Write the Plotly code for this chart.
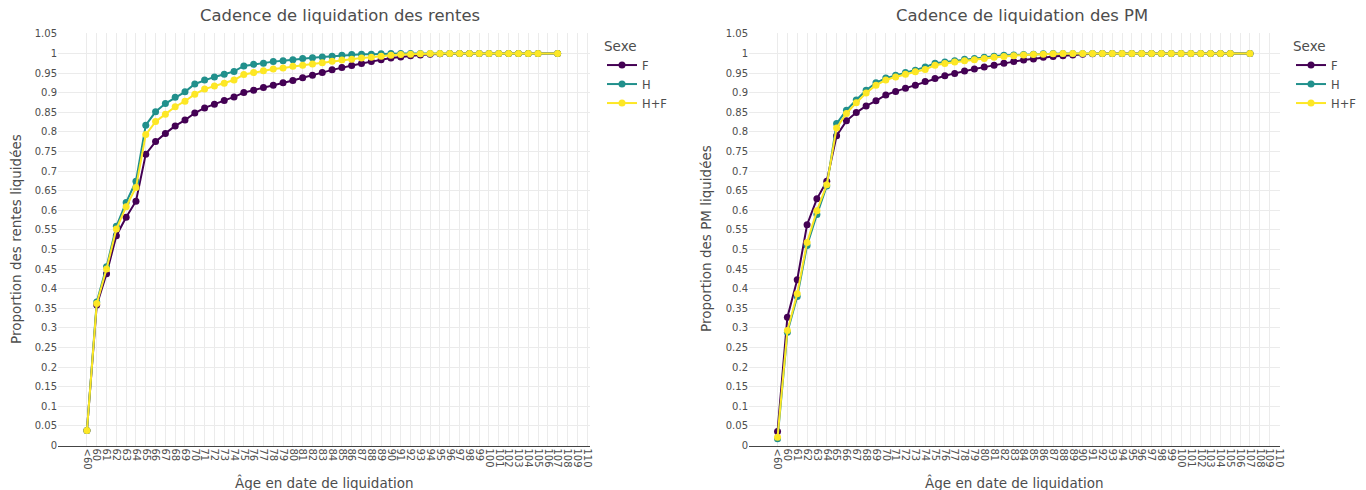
import plotly.graph_objects as go

# Age categories on the x axis (all ticks) and ages that carry data
tick_labels = ["<60"] + [str(a) for a in range(60, 111)]
ages = ["<60"] + [str(a) for a in range(60, 106)] + ["107"]

# Cumulative share of annuities (rentes) settled, by sex
rentes_F = [0.038, 0.358, 0.438, 0.535, 0.582, 0.623, 0.743, 0.775, 0.796, 0.815,
            0.830, 0.848, 0.861, 0.870, 0.880, 0.889, 0.900, 0.906, 0.913, 0.919,
            0.925, 0.931, 0.938, 0.944, 0.951, 0.958, 0.964, 0.969, 0.974, 0.979,
            0.984, 0.988, 0.991, 0.994, 0.996, 0.998, 0.999, 1, 1, 1,
            1, 1, 1, 1, 1, 1, 1, 1]
rentes_H = [0.038, 0.366, 0.456, 0.559, 0.620, 0.674, 0.817, 0.851, 0.872, 0.888,
            0.902, 0.922, 0.932, 0.940, 0.947, 0.954, 0.968, 0.972, 0.975, 0.979,
            0.981, 0.984, 0.987, 0.989, 0.991, 0.993, 0.995, 0.997, 0.998, 0.998,
            0.999, 1, 1, 1, 1, 1, 1, 1, 1, 1,
            1, 1, 1, 1, 1, 1, 1, 1]
rentes_HF = [0.038, 0.362, 0.450, 0.552, 0.609, 0.658, 0.793, 0.826, 0.845, 0.864,
             0.878, 0.896, 0.909, 0.917, 0.924, 0.932, 0.946, 0.951, 0.956, 0.960,
             0.963, 0.967, 0.970, 0.973, 0.976, 0.980, 0.983, 0.985, 0.988, 0.990,
             0.993, 0.995, 0.997, 0.998, 0.999, 1, 1, 1, 1, 1,
             1, 1, 1, 1, 1, 1, 1, 1]

# Cumulative share of mathematical provisions (PM) settled, by sex
pm_F = [0.036, 0.327, 0.423, 0.563, 0.629, 0.674, 0.790, 0.828, 0.849, 0.866,
        0.879, 0.894, 0.903, 0.911, 0.919, 0.928, 0.936, 0.943, 0.949, 0.955,
        0.960, 0.965, 0.970, 0.975, 0.979, 0.983, 0.986, 0.990, 0.992, 0.994,
        0.996, 0.998, 0.999, 1, 1, 1, 1, 1, 1, 1,
        1, 1, 1, 1, 1, 1, 1, 1]
pm_H = [0.017, 0.289, 0.380, 0.510, 0.589, 0.662, 0.821, 0.855, 0.881, 0.906,
        0.925, 0.937, 0.944, 0.951, 0.957, 0.965, 0.975, 0.978, 0.981, 0.985,
        0.987, 0.990, 0.993, 0.995, 0.996, 0.997, 0.998, 0.999, 1, 1,
        1, 1, 1, 1, 1, 1, 1, 1, 1, 1,
        1, 1, 1, 1, 1, 1, 1, 1]
pm_HF = [0.021, 0.293, 0.387, 0.518, 0.599, 0.665, 0.810, 0.847, 0.874, 0.899,
         0.919, 0.932, 0.940, 0.947, 0.953, 0.959, 0.970, 0.974, 0.978, 0.981,
         0.984, 0.987, 0.990, 0.992, 0.994, 0.996, 0.997, 0.998, 0.999, 1,
         1, 1, 1, 1, 1, 1, 1, 1, 1, 1,
         1, 1, 1, 1, 1, 1, 1, 1]

series_names = ["F", "H", "H+F"]
colors = {"F": "#440154", "H": "#21908C", "H+F": "#FDE725"}

FONT = "DejaVu Sans, Verdana, sans-serif"
TXT = "#4d4d4d"
W, H = 1366, 490

fig = go.Figure()

panels = [
    ("x", "y", "legend", [rentes_F, rentes_H, rentes_HF]),
    ("x2", "y2", "legend2", [pm_F, pm_H, pm_HF]),
]
for xa, ya, lg, values in panels:
    for name, vals in zip(series_names, values):
        fig.add_trace(go.Scatter(
            x=ages, y=vals, name=name, mode="lines+markers",
            line=dict(color=colors[name], width=2),
            marker=dict(color=colors[name], size=7),
            xaxis=xa, yaxis=ya, legend=lg,
        ))

def px_x(p):
    return p / W

def px_y(p):
    return 1 - p / H

xaxis_common = dict(
    type="category", categoryorder="array", categoryarray=tick_labels,
    tickmode="array", tickvals=tick_labels, ticktext=tick_labels,
    tickangle=90, tickfont=dict(family=FONT, size=10, color=TXT),
    showgrid=True, gridcolor="#ebebeb", gridwidth=1,
    showline=True, linecolor="#444", linewidth=1,
    ticks="", zeroline=False, automargin=False,
    fixedrange=True,
)
yaxis_common = dict(
    range=[0, 1.052], tickmode="linear", tick0=0, dtick=0.05,
    tickfont=dict(family=FONT, size=10, color=TXT),
    showgrid=True, gridcolor="#ebebeb", gridwidth=1,
    showline=False, zeroline=False, ticks="", automargin=False,
    domain=[px_y(445.5), px_y(33)],
)

legend_common = dict(
    xanchor="left", yanchor="top", y=px_y(33),
    title=dict(text="Sexe", font=dict(size=13.5, color=TXT)),
    font=dict(size=11.5, color=TXT), bgcolor="rgba(0,0,0,0)",
    tracegroupgap=0,
)

fig.update_layout(
    width=W, height=H,
    margin=dict(l=0, r=0, t=0, b=0),
    paper_bgcolor="white", plot_bgcolor="white",
    font=dict(family=FONT, color=TXT),
    xaxis=dict(domain=[px_x(58), px_x(590)], range=[-2.95, 51.3], **xaxis_common),
    xaxis2=dict(domain=[px_x(749), px_x(1280)], range=[-2.9, 51.05], anchor="y2", **xaxis_common),
    yaxis=dict(anchor="x", **yaxis_common),
    yaxis2=dict(anchor="x2", **yaxis_common),
    legend=dict(x=px_x(602), **legend_common),
    legend2=dict(x=px_x(1291), **legend_common),
    showlegend=True,
)

annotations = [
    dict(text="Cadence de liquidation des rentes", x=px_x(340), y=px_y(15),
         font=dict(size=16.4)),
    dict(text="Cadence de liquidation des PM", x=px_x(1022), y=px_y(15),
         font=dict(size=16.4)),
    dict(text="Âge en date de liquidation", x=px_x(324), y=px_y(482),
         font=dict(size=13.5)),
    dict(text="Âge en date de liquidation", x=px_x(1014), y=px_y(482),
         font=dict(size=13.5)),
    dict(text="Proportion des rentes liquidées", x=px_x(16), y=px_y(239),
         textangle=-90, font=dict(size=13.5)),
    dict(text="Proportion des PM liquidées", x=px_x(706), y=px_y(239),
         textangle=-90, font=dict(size=13.5)),
]
for a in annotations:
    fig.add_annotation(xref="paper", yref="paper", showarrow=False,
                       xanchor="center", yanchor="middle",
                       **{k: v for k, v in a.items() if k != "font"},
                       font=dict(family=FONT, color=TXT, **a["font"]))

fig.write_html("out.html")
